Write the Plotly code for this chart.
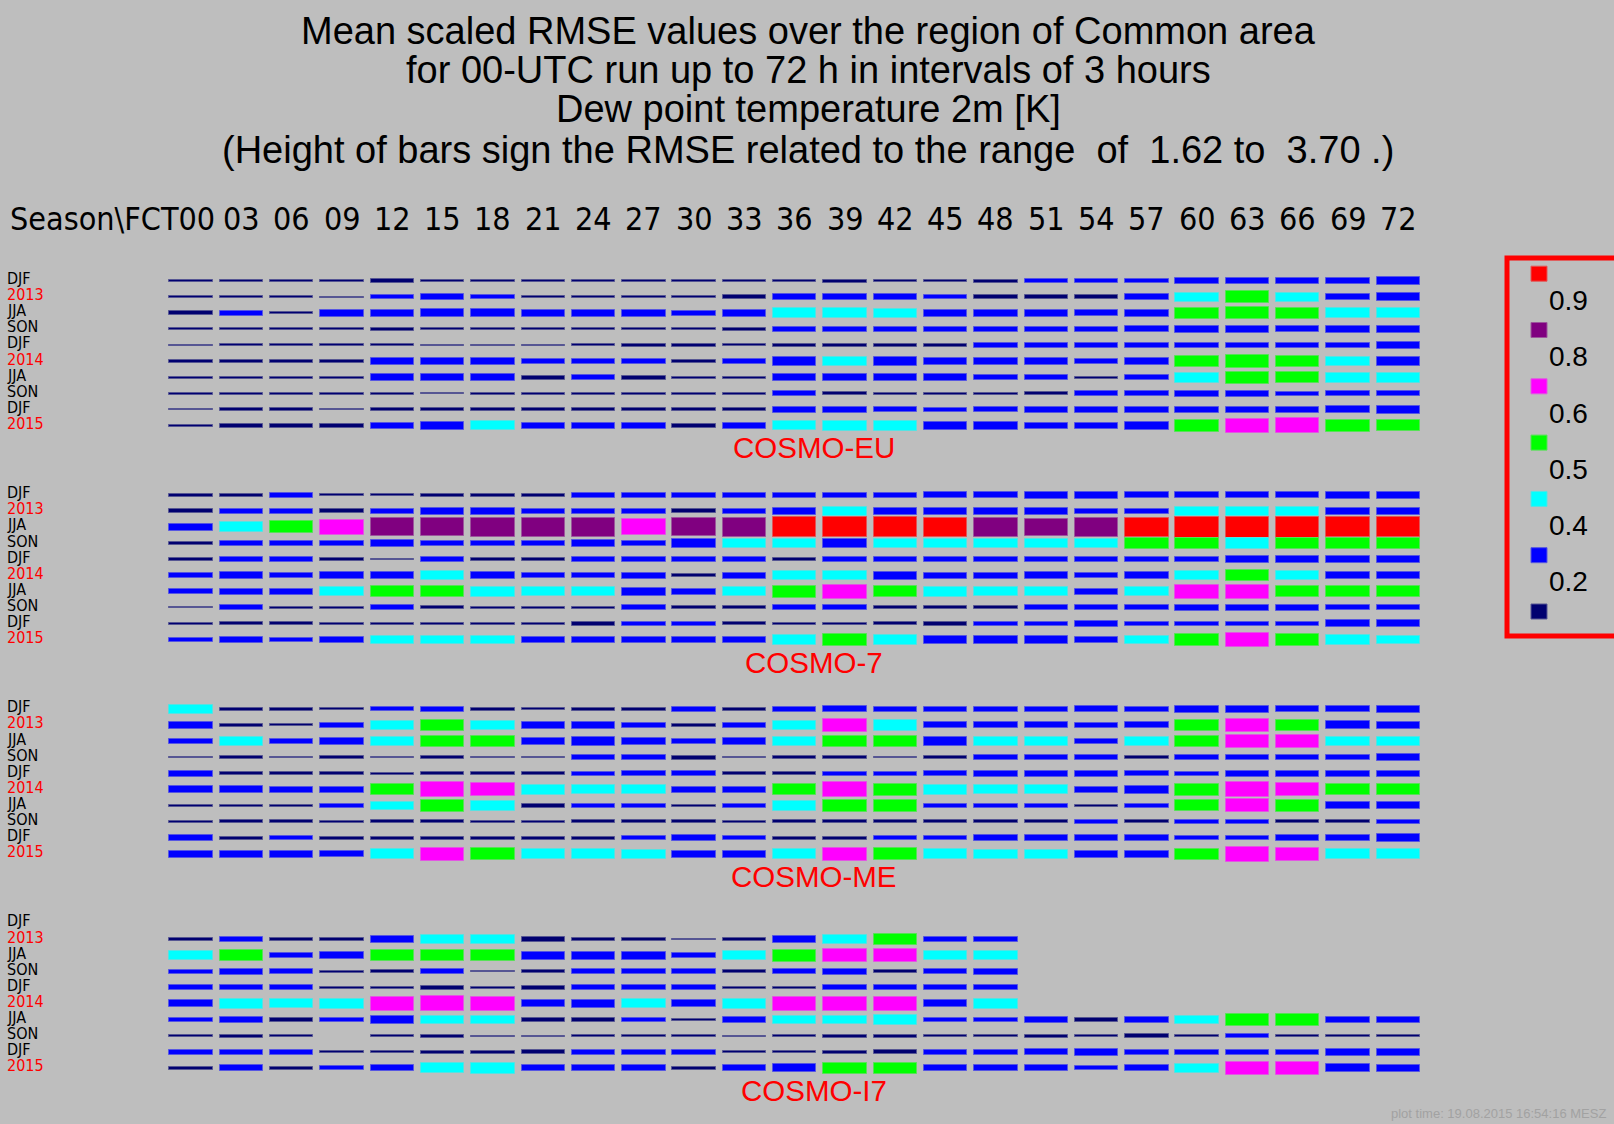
import plotly.graph_objects as go

W, H = 1614, 1124
BG = "#bebebe"

title_lines = [
    "Mean scaled RMSE values over the region of Common area",
    "for 00-UTC run up to 72 h in intervals of 3 hours",
    "Dew point temperature 2m [K]",
    "(Height of bars sign the RMSE related to the range  of  1.62 to  3.70 .)",
]
header_label = "Season\\FCT"
fct_labels = ["00", "03", "06", "09", "12", "15", "18", "21", "24", "27", "30", "33", "36",
              "39", "42", "45", "48", "51", "54", "57", "60", "63", "66", "69", "72"]
season_labels = ["DJF", "2013", "JJA", "SON", "DJF", "2014", "JJA", "SON", "DJF", "2015"]
model_names = ["COSMO-EU", "COSMO-7", "COSMO-ME", "COSMO-I7"]
footer_text = "plot time: 19.08.2015 16:54:16 MESZ"

# colour classes of the scaled RMSE (upper bounds of each class)
class_bounds = [0.2, 0.4, 0.5, 0.6, 0.8, 0.9]
class_colors = ["#000070", "#0000ff", "#00ffff", "#00ff00", "#ff00ff", "#800080", "#ff0000"]
legend_labels = ["0.9", "0.8", "0.6", "0.5", "0.4", "0.2"]

N = None

cosmo_eu = [
    [0.10, 0.10, 0.06, 0.10, 0.15, 0.10, 0.10, 0.10, 0.06, 0.06, 0.10, 0.10,
     0.13, 0.14, 0.08, 0.08, 0.14, 0.22, 0.22, 0.22, 0.28, 0.28, 0.28, 0.28, 0.33],
    [0.10, 0.10, 0.10, 0.05, 0.20, 0.30, 0.20, 0.11, 0.06, 0.06, 0.10, 0.15,
     0.28, 0.28, 0.28, 0.20, 0.15, 0.15, 0.15, 0.28, 0.42, 0.54, 0.42, 0.28, 0.38],
    [0.17, 0.24, 0.10, 0.31, 0.34, 0.36, 0.36, 0.31, 0.31, 0.31, 0.25, 0.31,
     0.46, 0.45, 0.40, 0.34, 0.34, 0.34, 0.28, 0.34, 0.52, 0.58, 0.52, 0.45, 0.45],
    [0.09, 0.09, 0.09, 0.10, 0.15, 0.09, 0.09, 0.09, 0.09, 0.09, 0.09, 0.15,
     0.22, 0.22, 0.22, 0.22, 0.22, 0.22, 0.22, 0.28, 0.34, 0.34, 0.28, 0.34, 0.34],
    [0.05, 0.10, 0.10, 0.10, 0.09, 0.05, 0.05, 0.05, 0.10, 0.15, 0.15, 0.10,
     0.15, 0.15, 0.15, 0.15, 0.20, 0.22, 0.27, 0.22, 0.27, 0.27, 0.27, 0.27, 0.32],
    [0.10, 0.17, 0.10, 0.17, 0.28, 0.34, 0.28, 0.22, 0.22, 0.20, 0.10, 0.22,
     0.38, 0.42, 0.38, 0.28, 0.28, 0.28, 0.20, 0.34, 0.53, 0.58, 0.53, 0.41, 0.38],
    [0.09, 0.09, 0.10, 0.09, 0.36, 0.36, 0.36, 0.19, 0.24, 0.18, 0.09, 0.09,
     0.36, 0.36, 0.36, 0.36, 0.25, 0.25, 0.10, 0.25, 0.46, 0.55, 0.51, 0.46, 0.46],
    [0.09, 0.09, 0.09, 0.09, 0.08, 0.05, 0.09, 0.09, 0.09, 0.09, 0.08, 0.09,
     0.22, 0.15, 0.10, 0.10, 0.10, 0.15, 0.22, 0.22, 0.27, 0.27, 0.20, 0.22, 0.22],
    [0.05, 0.15, 0.15, 0.05, 0.15, 0.15, 0.15, 0.15, 0.15, 0.15, 0.15, 0.15,
     0.27, 0.27, 0.22, 0.20, 0.22, 0.27, 0.27, 0.27, 0.27, 0.27, 0.27, 0.32, 0.38],
    [0.08, 0.15, 0.15, 0.15, 0.28, 0.34, 0.41, 0.25, 0.25, 0.25, 0.19, 0.30,
     0.41, 0.44, 0.44, 0.34, 0.34, 0.28, 0.28, 0.34, 0.57, 0.65, 0.70, 0.57, 0.52],
]

cosmo_7 = [
    [0.14, 0.14, 0.22, 0.10, 0.10, 0.14, 0.14, 0.14, 0.22, 0.22, 0.22, 0.22,
     0.22, 0.22, 0.22, 0.27, 0.27, 0.32, 0.32, 0.27, 0.27, 0.27, 0.27, 0.32, 0.32],
    [0.18, 0.22, 0.22, 0.17, 0.22, 0.34, 0.34, 0.22, 0.22, 0.22, 0.17, 0.22,
     0.34, 0.41, 0.34, 0.34, 0.34, 0.34, 0.22, 0.22, 0.41, 0.41, 0.41, 0.34, 0.34],
    [0.30, 0.46, 0.56, 0.67, 0.83, 0.83, 0.87, 0.87, 0.87, 0.75, 0.83, 0.87,
     0.93, 0.93, 0.93, 0.90, 0.86, 0.81, 0.86, 0.90, 0.97, 0.97, 0.97, 0.93, 0.93],
    [0.14, 0.27, 0.27, 0.27, 0.33, 0.27, 0.27, 0.27, 0.33, 0.27, 0.38, 0.41,
     0.41, 0.39, 0.41, 0.41, 0.41, 0.41, 0.45, 0.52, 0.52, 0.48, 0.52, 0.52, 0.52],
    [0.14, 0.22, 0.22, 0.14, 0.08, 0.22, 0.14, 0.14, 0.22, 0.22, 0.22, 0.22,
     0.17, 0.22, 0.22, 0.22, 0.22, 0.22, 0.27, 0.27, 0.22, 0.33, 0.33, 0.33, 0.33],
    [0.22, 0.34, 0.22, 0.30, 0.34, 0.42, 0.34, 0.22, 0.22, 0.27, 0.14, 0.27,
     0.42, 0.45, 0.38, 0.28, 0.28, 0.34, 0.22, 0.34, 0.45, 0.53, 0.45, 0.34, 0.34],
    [0.22, 0.27, 0.27, 0.41, 0.53, 0.53, 0.48, 0.42, 0.42, 0.38, 0.27, 0.42,
     0.58, 0.63, 0.53, 0.48, 0.42, 0.42, 0.28, 0.42, 0.63, 0.63, 0.53, 0.53, 0.53],
    [0.05, 0.22, 0.12, 0.12, 0.22, 0.14, 0.10, 0.10, 0.10, 0.22, 0.14, 0.14,
     0.22, 0.22, 0.14, 0.14, 0.14, 0.22, 0.22, 0.22, 0.30, 0.27, 0.27, 0.22, 0.22],
    [0.08, 0.14, 0.14, 0.08, 0.08, 0.08, 0.08, 0.08, 0.19, 0.22, 0.22, 0.14,
     0.07, 0.07, 0.14, 0.19, 0.22, 0.22, 0.27, 0.22, 0.22, 0.22, 0.22, 0.33, 0.33],
    [0.20, 0.27, 0.20, 0.30, 0.41, 0.41, 0.41, 0.30, 0.30, 0.27, 0.27, 0.30,
     0.46, 0.52, 0.45, 0.38, 0.33, 0.33, 0.28, 0.41, 0.56, 0.63, 0.56, 0.46, 0.41],
]

cosmo_me = [
    [0.41, 0.14, 0.14, 0.10, 0.20, 0.22, 0.14, 0.09, 0.14, 0.14, 0.22, 0.14,
     0.22, 0.27, 0.22, 0.22, 0.22, 0.22, 0.27, 0.22, 0.33, 0.33, 0.27, 0.27, 0.33],
    [0.30, 0.14, 0.09, 0.20, 0.41, 0.53, 0.41, 0.30, 0.30, 0.20, 0.14, 0.22,
     0.44, 0.63, 0.48, 0.28, 0.28, 0.28, 0.20, 0.28, 0.53, 0.63, 0.53, 0.36, 0.33],
    [0.27, 0.41, 0.27, 0.33, 0.44, 0.53, 0.53, 0.33, 0.38, 0.33, 0.27, 0.33,
     0.44, 0.55, 0.55, 0.38, 0.41, 0.41, 0.27, 0.41, 0.55, 0.63, 0.63, 0.44, 0.44],
    [0.07, 0.14, 0.08, 0.10, 0.08, 0.14, 0.08, 0.08, 0.22, 0.22, 0.19, 0.07,
     0.14, 0.14, 0.08, 0.14, 0.22, 0.22, 0.22, 0.14, 0.22, 0.22, 0.22, 0.22, 0.33],
    [0.27, 0.14, 0.14, 0.14, 0.08, 0.14, 0.14, 0.14, 0.20, 0.22, 0.22, 0.14,
     0.14, 0.20, 0.20, 0.22, 0.27, 0.27, 0.27, 0.22, 0.20, 0.27, 0.27, 0.27, 0.27],
    [0.33, 0.33, 0.27, 0.27, 0.51, 0.70, 0.61, 0.47, 0.41, 0.41, 0.27, 0.27,
     0.52, 0.70, 0.55, 0.47, 0.42, 0.42, 0.27, 0.35, 0.55, 0.70, 0.62, 0.52, 0.52],
    [0.08, 0.08, 0.08, 0.22, 0.40, 0.55, 0.45, 0.19, 0.22, 0.22, 0.08, 0.22,
     0.45, 0.55, 0.55, 0.22, 0.22, 0.22, 0.08, 0.22, 0.51, 0.61, 0.55, 0.33, 0.33],
    [0.07, 0.14, 0.14, 0.08, 0.14, 0.14, 0.07, 0.07, 0.14, 0.14, 0.14, 0.08,
     0.14, 0.14, 0.14, 0.14, 0.14, 0.14, 0.20, 0.14, 0.22, 0.20, 0.14, 0.14, 0.22],
    [0.27, 0.14, 0.20, 0.14, 0.14, 0.14, 0.14, 0.14, 0.14, 0.22, 0.27, 0.20,
     0.14, 0.14, 0.20, 0.20, 0.27, 0.27, 0.27, 0.27, 0.22, 0.22, 0.27, 0.27, 0.38],
    [0.33, 0.33, 0.33, 0.30, 0.45, 0.61, 0.55, 0.45, 0.45, 0.41, 0.33, 0.33,
     0.45, 0.61, 0.55, 0.45, 0.41, 0.41, 0.33, 0.33, 0.52, 0.70, 0.61, 0.45, 0.45],
]

cosmo_i7 = [
    [N] * 25,
    [0.10, 0.22, 0.10, 0.10, 0.33, 0.46, 0.46, 0.19, 0.10, 0.10, 0.08, 0.10,
     0.33, 0.45, 0.55, 0.22, 0.22, N, N, N, N, N, N, N, N],
    [0.41, 0.52, 0.27, 0.33, 0.52, 0.52, 0.52, 0.38, 0.38, 0.38, 0.27, 0.45,
     0.55, 0.63, 0.63, 0.45, 0.45, N, N, N, N, N, N, N, N],
    [0.20, 0.27, 0.22, 0.08, 0.14, 0.22, 0.07, 0.14, 0.22, 0.22, 0.22, 0.14,
     0.22, 0.27, 0.14, 0.22, 0.27, N, N, N, N, N, N, N, N],
    [0.22, 0.22, 0.22, 0.10, 0.10, 0.18, 0.10, 0.18, 0.22, 0.22, 0.22, 0.10,
     0.10, 0.22, 0.22, 0.22, 0.22, N, N, N, N, N, N, N, N],
    [0.33, 0.44, 0.41, 0.44, 0.62, 0.70, 0.62, 0.33, 0.38, 0.41, 0.33, 0.44,
     0.65, 0.68, 0.63, 0.33, 0.44, N, N, N, N, N, N, N, N],
    [0.20, 0.30, 0.17, 0.20, 0.38, 0.41, 0.41, 0.17, 0.17, 0.20, 0.06, 0.30,
     0.41, 0.41, 0.49, 0.22, 0.20, 0.30, 0.17, 0.30, 0.41, 0.53, 0.53, 0.30, 0.30],
    [0.08, 0.14, 0.08, N, 0.10, 0.14, 0.04, 0.04, 0.08, 0.08, 0.08, 0.04,
     0.08, 0.14, 0.14, 0.08, 0.08, 0.14, 0.08, 0.15, 0.12, 0.22, 0.08, 0.08, 0.12],
    [0.22, 0.22, 0.22, 0.10, 0.10, 0.14, 0.14, 0.18, 0.22, 0.22, 0.22, 0.10,
     0.09, 0.14, 0.18, 0.22, 0.22, 0.27, 0.33, 0.22, 0.22, 0.22, 0.22, 0.33, 0.33],
    [0.14, 0.27, 0.14, 0.20, 0.27, 0.47, 0.49, 0.27, 0.27, 0.27, 0.14, 0.27,
     0.38, 0.53, 0.53, 0.27, 0.27, 0.27, 0.20, 0.27, 0.44, 0.63, 0.63, 0.38, 0.33],
]

panels = [cosmo_eu, cosmo_7, cosmo_me, cosmo_i7]

# ---- layout geometry (pixels) ----
COL_PX = 50.3          # distance between forecast columns
ROW_PX = 16.1          # distance between season rows
X0_PX = 191.1          # centre of first column
Y0_PX = 281.0          # centre of first row of first panel
PANEL_STEP = 13.3      # panel spacing in rows
BAR_W = 0.863          # bar width in column units
BAR_SCALE = 21.5 / ROW_PX  # bar height (rows) per unit of scaled RMSE


def px_x(p):
    return p / W


def px_y(p):
    return 1 - p / H


def blend(hex_color, other, t):
    a = [int(hex_color[i:i + 2], 16) for i in (1, 3, 5)]
    b = [int(other[i:i + 2], 16) for i in (1, 3, 5)]
    c = [round(a[k] * (1 - t) + b[k] * t) for k in range(3)]
    return "#%02x%02x%02x" % tuple(c)


def class_color(v):
    for bound, col in zip(class_bounds, class_colors):
        if v < bound:
            return col
    return class_colors[-1]


xs, hs, bases, fills, edges = [], [], [], [], []
for p, panel in enumerate(panels):
    for r, row in enumerate(panel):
        yc = p * PANEL_STEP + r
        for c, v in enumerate(row):
            if v is None:
                continue
            h = v * BAR_SCALE
            xs.append(c)
            hs.append(h)
            bases.append(yc - h / 2)
            col = class_color(v)
            fills.append(col)
            edges.append(blend(col, BG, 0.45))

fig = go.Figure()
fig.add_trace(go.Bar(
    x=xs, y=hs, base=bases, width=BAR_W,
    marker=dict(color=fills, line=dict(color=edges, width=1)),
    showlegend=False, hoverinfo="skip",
))

sans = "Liberation Sans, Arial, sans-serif"
narrow = "Liberation Sans Narrow, Arial Narrow, DejaVu Sans Condensed, sans-serif"

ann = []
title_y = [31, 70, 109, 150]
for txt, yy in zip(title_lines, title_y):
    ann.append(dict(text=txt, xref="paper", yref="paper", x=px_x(808), y=px_y(yy),
                    xanchor="center", yanchor="middle", showarrow=False,
                    font=dict(size=38, color="black", family=sans)))

HEADER_Y = 219
ann.append(dict(text=header_label + fct_labels[0], xref="paper", yref="paper",
                x=px_x(8), y=px_y(HEADER_Y), xanchor="left", yanchor="middle",
                showarrow=False, font=dict(size=32, color="black", family=narrow)))
for i, lab in enumerate(fct_labels[1:], start=1):
    ann.append(dict(text=lab, xref="x", yref="paper", x=i, y=px_y(HEADER_Y),
                    xanchor="center", yanchor="middle", showarrow=False,
                    font=dict(size=32, color="black", family=narrow)))

for p, name in enumerate(model_names):
    for r, lab in enumerate(season_labels):
        color = "red" if lab.isdigit() else "black"
        ann.append(dict(text=lab, xref="paper", yref="y", x=px_x(5),
                        y=p * PANEL_STEP + r - 0.15, xanchor="left", yanchor="middle",
                        showarrow=False, font=dict(size=16, color=color, family=narrow)))
    ann.append(dict(text=name, xref="x", yref="y", x=12.38, y=p * PANEL_STEP + 10.37,
                    xanchor="center", yanchor="middle", showarrow=False,
                    font=dict(size=29.5, color="red", family=sans)))

# colour key
shapes = [dict(type="rect", xref="paper", yref="paper",
               x0=px_x(1507), x1=px_x(1625), y0=px_y(636), y1=px_y(258),
               line=dict(color="red", width=5), fillcolor="rgba(0,0,0,0)")]
key_colors = class_colors[::-1]
for k, col in enumerate(key_colors):
    cy = 273.7 + 56.3 * k
    shapes.append(dict(type="rect", xref="paper", yref="paper",
                       x0=px_x(1531), x1=px_x(1547), y0=px_y(cy + 7.5), y1=px_y(cy - 7.5),
                       fillcolor=col, line=dict(color=blend(col, BG, 0.45), width=1)))
for k, lab in enumerate(legend_labels):
    cy = 300.7 + 56.2 * k
    ann.append(dict(text=lab, xref="paper", yref="paper", x=px_x(1547), y=px_y(cy),
                    xanchor="left", yanchor="middle", showarrow=False,
                    font=dict(size=28, color="black", family=sans)))

ann.append(dict(text=footer_text, xref="paper", yref="paper", x=px_x(1608), y=px_y(1113),
                xanchor="right", yanchor="middle", showarrow=False,
                font=dict(size=13, color="#a2a2a2", family=sans)))

fig.update_layout(
    width=W, height=H, autosize=False,
    margin=dict(l=0, r=0, t=0, b=0, pad=0),
    paper_bgcolor=BG, plot_bgcolor=BG,
    barmode="overlay", bargap=0,
    xaxis=dict(range=[-X0_PX / COL_PX, (W - X0_PX) / COL_PX], visible=False,
               showgrid=False, zeroline=False, fixedrange=True),
    yaxis=dict(range=[(H - Y0_PX) / ROW_PX, -Y0_PX / ROW_PX], visible=False,
               showgrid=False, zeroline=False, fixedrange=True),
    annotations=ann, shapes=shapes,
)

fig.write_html("out.html", include_plotlyjs=True, config={"displayModeBar": False})
